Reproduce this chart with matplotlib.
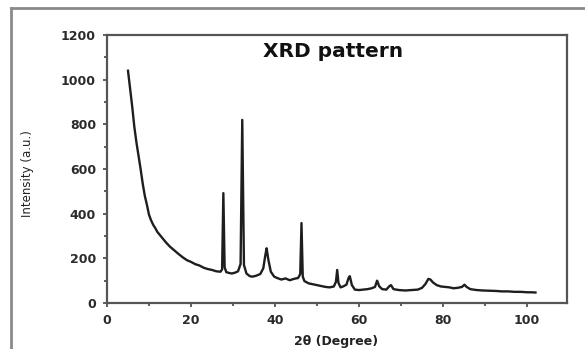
import matplotlib
matplotlib.use("Agg")
import matplotlib.pyplot as plt
from matplotlib.lines import Line2D
from matplotlib.ticker import MultipleLocator

# XRD pattern (2theta in degrees, intensity in a.u.)
two_theta = [5.0, 5.5, 6.0, 6.5, 7.0, 7.5, 8.0, 8.5, 9.0, 9.5,
             10.0, 10.5, 11.0, 11.5, 12.0, 13.0, 14.0, 15.0, 16.0, 17.0,
             18.0, 19.0, 20.0, 21.0, 22.0, 23.0, 24.0, 25.0, 26.0, 27.0,
             27.4, 27.7, 28.0, 28.4, 29.0, 29.7, 30.5, 31.2, 31.8, 32.2,
             32.6, 33.2, 34.0, 34.6, 35.5, 36.5, 37.2, 37.7, 38.0, 38.4,
             39.0, 39.8, 40.5, 41.5, 42.5, 43.5, 44.5, 45.5, 46.0, 46.3,
             46.6, 47.0, 48.0, 49.0, 50.0, 51.0, 52.0, 53.0, 54.0, 54.5,
             54.8, 55.1, 55.6, 56.2, 57.0, 57.5, 57.8, 58.3, 59.0, 60.0,
             61.0, 62.0, 63.0, 63.8, 64.3, 64.8, 65.5, 66.5, 67.2, 67.6,
             68.2, 69.5, 71.0, 72.5, 74.0, 75.0, 75.8, 76.5, 77.0, 77.6,
             78.5, 79.5, 80.5, 81.5, 82.5, 83.5, 84.5, 85.1, 85.6, 86.5,
             88.0, 89.5, 91.0, 92.5, 94.0, 95.5, 97.0, 98.5, 100.0, 101.0,
             102.0]
intensity = [1040, 960, 880, 790, 720, 660, 600, 535, 480, 440,
             395, 370, 350, 335, 318, 295, 272, 252, 236, 220,
             205, 192, 184, 174, 168, 158, 152, 148, 142, 140,
             150, 492, 160, 138, 135, 132, 136, 142, 175, 820,
             170, 132, 120, 118, 122, 130, 155, 215, 245, 195,
             140, 118, 112, 105, 110, 102, 108, 112, 130, 358,
             118, 98, 88, 84, 80, 76, 72, 70, 74, 95,
             148, 90, 70, 74, 82, 112, 120, 80, 60, 58,
             60, 62, 66, 72, 100, 75, 62, 60, 75, 80,
             62, 58, 56, 58, 60, 68, 85, 108, 105, 92,
             80, 74, 72, 70, 66, 68, 72, 82, 72, 62,
             58, 56, 55, 54, 52, 52, 50, 50, 48, 48,
             47]

x_ticks = [0, 20, 40, 60, 80, 100]
y_ticks = [0, 200, 400, 600, 800, 1000, 1200]

plt.rcParams['font.family'] = ['DejaVu Sans']

fig = plt.figure(figsize=(5.85, 3.49), dpi=100)
ax = fig.add_axes([0.1829, 0.1318, 0.7863, 0.7679])

ax.plot(two_theta, intensity, color='#1e1e1e', lw=1.7)

ax.set_xlim(0, 109.5)
ax.set_ylim(0, 1200)
ax.set_xticks(x_ticks)
ax.set_yticks(y_ticks)
ax.xaxis.set_minor_locator(MultipleLocator(10))
ax.yaxis.set_minor_locator(MultipleLocator(100))
ax.tick_params(which='both', direction='out', color='#444', width=1.2)
ax.tick_params(which='major', length=3, pad=5, labelsize=9)
ax.tick_params(which='minor', length=2)
for lab in ax.get_xticklabels() + ax.get_yticklabels():
    lab.set_fontweight('bold')
    lab.set_color('#2a2a2a')

for s in ax.spines.values():
    s.set_color('#555')
    s.set_linewidth(1.6)

ax.text(53.7, 1128, 'XRD pattern', ha='center', va='center',
        fontsize=14.5, fontweight='bold', color='#111')
ax.set_xlabel('2θ (Degree)', fontsize=9, fontweight='bold', color='#222',
              va='center')
ax.xaxis.set_label_coords(0.498, -0.143)
fig.text(28 / 585, 1 - 174 / 349, 'Intensity (a.u.)', rotation=90,
         ha='center', va='center', fontsize=8.5, color='#222')

# gray frame around the figure (top and left edges visible)
fig.add_artist(Line2D([11 / 585, 1], [1 - 8 / 349, 1 - 8 / 349],
                      transform=fig.transFigure, color='#8a8a8a', lw=2))
fig.add_artist(Line2D([11 / 585, 11 / 585], [0, 1 - 8 / 349],
                      transform=fig.transFigure, color='#8a8a8a', lw=2))

fig.savefig('out.png', dpi=100)
